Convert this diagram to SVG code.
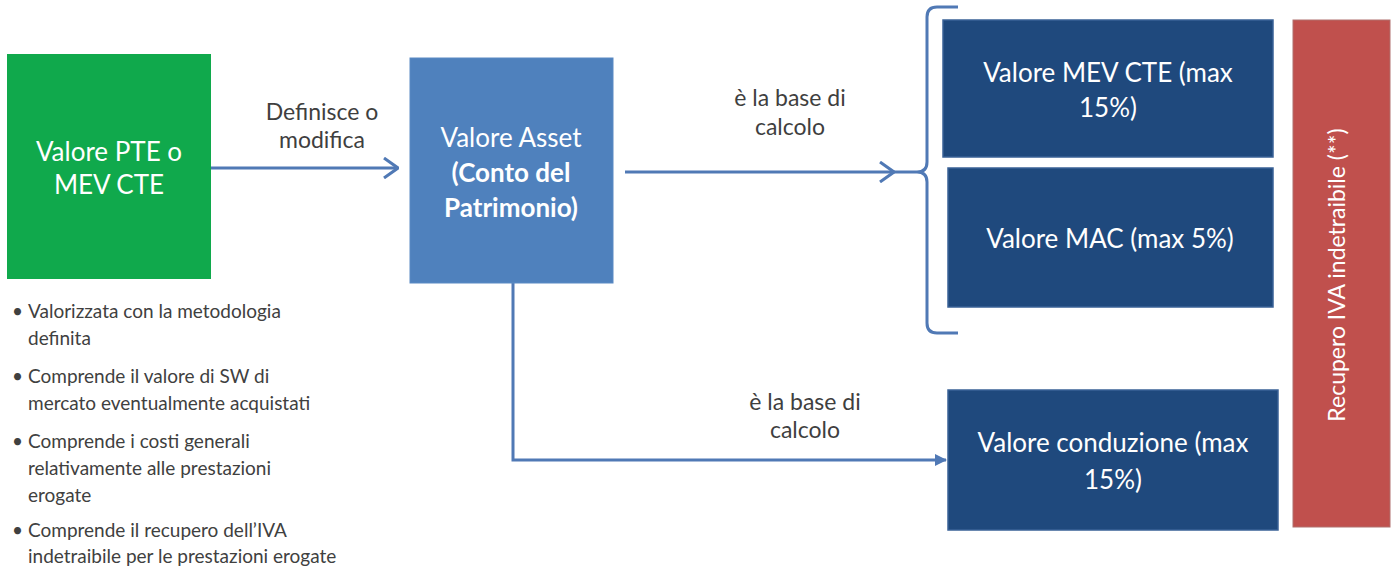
<svg xmlns="http://www.w3.org/2000/svg" width="1398" height="567" viewBox="0 0 1398 567">
<defs>
<style>
.box-text{font-family:Lato,"Liberation Sans",sans-serif;font-size:26px;fill:#ffffff;text-anchor:middle}
.bold{font-weight:bold}
.label{font-family:Lato,"Liberation Sans",sans-serif;font-size:23px;fill:#3f3f3f;text-anchor:middle}
.bullet{font-family:Lato,"Liberation Sans",sans-serif;font-size:19px;fill:#404040}
.conn{fill:none;stroke:#5079B5;stroke-width:3}
.dark{fill:#1F497D;stroke:#3A6297;stroke-width:1.5}
</style>
<marker id="open" markerUnits="userSpaceOnUse" viewBox="0 0 16 22" markerWidth="16" markerHeight="22" refX="15" refY="11" orient="auto">
<path d="M1,1 L15,11 L1,21" fill="none" stroke="#5079B5" stroke-width="3"/>
</marker>
<marker id="tri" markerUnits="userSpaceOnUse" viewBox="0 0 12 12" markerWidth="12" markerHeight="12" refX="11" refY="6" orient="auto">
<path d="M0,0 L12,6 L0,12 Z" fill="#5079B5"/>
</marker>
</defs>
<rect width="1398" height="567" fill="#ffffff"/>

<g id="connectors">
<line class="conn" x1="211" y1="168" x2="398" y2="168" marker-end="url(#open)"/>
<line class="conn" x1="625" y1="172" x2="894" y2="172" marker-end="url(#open)"/>
<polyline class="conn" points="513,283 513,460 946,460" marker-end="url(#tri)"/>
<path class="conn" d="M958,7 H937 Q927,7 927,17 V162 Q927,172 917,172 Q927,172 927,182 V323 Q927,333 937,333 H958 M917,172 H893" stroke="#5B7AAE"/>
</g>

<g id="node-pte">
<rect x="7" y="54" width="204" height="225" fill="#10A94C"/>
<text class="box-text" x="109" y="161">Valore PTE o</text>
<text class="box-text" x="109" y="194">MEV CTE</text>
</g>

<g id="label-definisce">
<text class="label" x="322" y="120">Definisce o</text>
<text class="label" x="322" y="148">modifica</text>
</g>

<g id="node-asset">
<rect x="410" y="58" width="203" height="225" fill="#4F81BD" stroke="#5A8AC4" stroke-width="1"/>
<text class="box-text" x="511" y="147">Valore Asset</text>
<text class="box-text bold" x="511" y="182">(Conto del</text>
<text class="box-text bold" x="511" y="217">Patrimonio)</text>
</g>

<g id="label-base1">
<text class="label" x="790" y="106">è la base di</text>
<text class="label" x="790" y="135">calcolo</text>
</g>

<g id="label-base2">
<text class="label" x="805" y="410">è la base di</text>
<text class="label" x="805" y="438">calcolo</text>
</g>

<g id="node-mev">
<rect class="dark" x="943" y="20" width="330" height="137"/>
<text class="box-text" x="1108" y="82">Valore MEV CTE (max</text>
<text class="box-text" x="1108" y="117">15%)</text>
</g>

<g id="node-mac">
<rect class="dark" x="948" y="168" width="325" height="139"/>
<text class="box-text" x="1110" y="248">Valore MAC (max 5%)</text>
</g>

<g id="node-conduzione">
<rect class="dark" x="948" y="390" width="330" height="140"/>
<text class="box-text" x="1113" y="452">Valore conduzione (max</text>
<text class="box-text" x="1113" y="489">15%)</text>
</g>

<g id="node-iva">
<rect x="1293" y="20" width="97" height="507" fill="#C0504D" stroke="#B0706E" stroke-width="1"/>
<text class="box-text" style="font-size:23px" transform="translate(1345,275) rotate(-90)">Recupero IVA indetraibile (**)</text>
</g>

<g id="notes">
<text class="bullet" x="12" y="318">•</text>
<text class="bullet" x="28" y="318">Valorizzata con la metodologia</text>
<text class="bullet" x="28" y="345">definita</text>
<text class="bullet" x="12" y="383">•</text>
<text class="bullet" x="28" y="383">Comprende il valore di SW di</text>
<text class="bullet" x="28" y="410">mercato eventualmente acquistati</text>
<text class="bullet" x="12" y="448">•</text>
<text class="bullet" x="28" y="448">Comprende i costi generali</text>
<text class="bullet" x="28" y="475">relativamente alle prestazioni</text>
<text class="bullet" x="28" y="502">erogate</text>
<text class="bullet" x="12" y="537">•</text>
<text class="bullet" x="28" y="537">Comprende il recupero dell’IVA</text>
<text class="bullet" x="28" y="563">indetraibile per le prestazioni erogate</text>
</g>
</svg>
